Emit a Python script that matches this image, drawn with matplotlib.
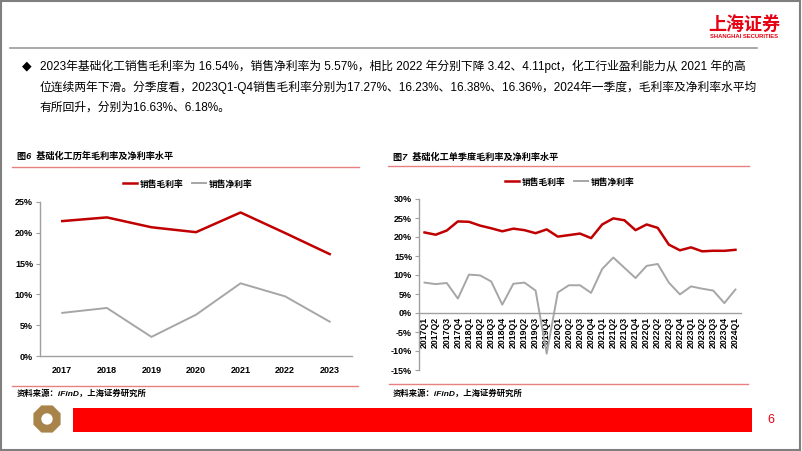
import matplotlib
matplotlib.use("Agg")
import matplotlib.pyplot as plt
from matplotlib.patches import Rectangle, RegularPolygon, Circle
from matplotlib.lines import Line2D

plt.rcParams['font.family'] = ['Liberation Sans', 'Noto Sans CJK SC', 'DejaVu Sans']

# ---- data ----
years = ["2017", "2018", "2019", "2020", "2021", "2022", "2023"]
gross_year = [21.9, 22.5, 20.9, 20.1, 23.3, 19.96, 16.54]
net_year = [7.0, 7.8, 3.1, 6.7, 11.8, 9.68, 5.57]

quarters = ["2017Q1", "2017Q2", "2017Q3", "2017Q4",
            "2018Q1", "2018Q2", "2018Q3", "2018Q4",
            "2019Q1", "2019Q2", "2019Q3", "2019Q4",
            "2020Q1", "2020Q2", "2020Q3", "2020Q4",
            "2021Q1", "2021Q2", "2021Q3", "2021Q4",
            "2022Q1", "2022Q2", "2022Q3", "2022Q4",
            "2023Q1", "2023Q2", "2023Q3", "2023Q4", "2024Q1"]
gross_q = [21.2, 20.6, 21.7, 24.1, 24.0, 23.0, 22.3, 21.5,
           22.2, 21.8, 21.0, 22.0, 20.1, 20.5, 20.9, 19.7,
           23.3, 24.9, 24.4, 21.8, 23.3, 22.4, 18.0, 16.5,
           17.27, 16.23, 16.38, 16.36, 16.63]
net_q = [8.0, 7.6, 7.9, 3.8, 10.1, 9.9, 8.3, 2.2,
         7.7, 8.0, 5.9, -10.7, 5.4, 7.3, 7.3, 5.3,
         11.6, 14.6, 11.9, 9.2, 12.4, 12.9, 8.0, 4.9,
         7.0, 6.4, 5.9, 2.6, 6.18]

series_names = ["销售毛利率", "销售净利率"]
RED = "#C00000"
GREY = "#A6A6A6"
AXIS = "#A0A0A0"

W, H = 802, 451
fig = plt.figure(figsize=(W / 100, H / 100), dpi=100)


def px(x, y):
    return x / W, 1 - y / H


def text(x, y, s, **kw):
    fig.text(x / W, 1 - y / H, s, **kw)


def hline(x0, x1, y, color, lw):
    fig.add_artist(Line2D([x0 / W, x1 / W], [1 - y / H, 1 - y / H],
                          color=color, lw=lw, transform=fig.transFigure))


def axes_px(x0, y0, x1, y1):
    return fig.add_axes([x0 / W, 1 - y1 / H, (x1 - x0) / W, (y1 - y0) / H])


# ---- page furniture ----
fig.add_artist(Rectangle((0.001, 0.002), 0.997, 0.996, fill=False,
                         edgecolor="#7F7F7F", lw=1.5, transform=fig.transFigure))
text(744, 24, "上海证券", color="#E60012", fontsize=13, fontweight="bold",
     ha="center", va="center", family=["Noto Sans CJK SC"])
text(744, 36, "SHANGHAI SECURITIES", color="#E60012", fontsize=4.2,
     fontweight="bold", ha="center", va="center")
hline(10, 757, 48, "#9A9A9A", 1.2)

text(27, 66, "◆", fontsize=9, ha="center", va="center", family=["DejaVu Sans"])
body = ["2023年基础化工销售毛利率为 16.54%，销售净利率为 5.57%，相比 2022 年分别下降 3.42、4.11pct，化工行业盈利能力从 2021 年的高",
        "位连续两年下滑。分季度看，2023Q1-Q4销售毛利率分别为17.27%、16.23%、16.38%、16.36%，2024年一季度，毛利率及净利率水平均",
        "有所回升，分别为16.63%、6.18%。"]
for i, line in enumerate(body):
    text(40, 66 + i * 21, line, fontsize=8.5, ha="left", va="center")

# chart titles and rules
text(17, 156, "图6  基础化工历年毛利率及净利率水平", fontsize=6.6, fontweight="bold",
     ha="left", va="center", style="italic")
text(393, 157, "图7  基础化工单季度毛利率及净利率水平", fontsize=6.6, fontweight="bold",
     ha="left", va="center", style="italic")
hline(12, 359, 167, "#E88080", 1.0)
hline(388, 749, 166, "#E88080", 1.0)
hline(12, 358, 386, "#E88080", 1.0)
hline(389, 748, 384, "#E88080", 1.0)
text(17, 394, "资料来源：iFinD，上海证券研究所", fontsize=6.0, fontweight="bold",
     style="italic", ha="left", va="center")
text(393, 394, "资料来源：iFinD，上海证券研究所", fontsize=6.0, fontweight="bold",
     style="italic", ha="left", va="center")

# bottom bar, logo and page number
fig.add_artist(Rectangle(px(73, 432), (752 - 73) / W, (432 - 408) / H,
                         facecolor="#FF0000", edgecolor="none", transform=fig.transFigure))
ax_logo = axes_px(31, 404, 63, 434)
ax_logo.set_xlim(-1, 1)
ax_logo.set_ylim(-1, 1)
ax_logo.set_aspect("equal")
ax_logo.axis("off")
ax_logo.add_patch(RegularPolygon((0, 0), 8, radius=0.98, orientation=0.3927,
                                 facecolor="#A8844A", edgecolor="none"))
ax_logo.add_patch(Circle((0, 0), 0.38, facecolor="white", edgecolor="none"))
text(771, 420, "6", color="#E60012", fontsize=9, ha="center", va="center")

# ---- left chart ----
ax1 = axes_px(40, 202, 352, 356)
x1 = range(len(years))
ax1.plot(x1, gross_year, color=RED, lw=1.8)
ax1.plot(x1, net_year, color=GREY, lw=1.4)
ax1.set_xlim(-0.5, len(years) - 0.5)
ax1.set_ylim(0, 25)
ax1.set_yticks([0, 5, 10, 15, 20, 25])
ax1.set_yticklabels([f"{v}%" for v in [0, 5, 10, 15, 20, 25]])
ax1.set_xticks(list(x1))
ax1.set_xticklabels(years)
for s in ["top", "right"]:
    ax1.spines[s].set_visible(False)
for s in ["left", "bottom"]:
    ax1.spines[s].set_color(AXIS)
    ax1.spines[s].set_linewidth(1.0)
ax1.tick_params(axis="y", length=3, color=AXIS, pad=2, labelsize=6.5)
ax1.tick_params(axis="x", length=0, pad=7, labelsize=6.5)
for lab in ax1.get_xticklabels() + ax1.get_yticklabels():
    lab.set_fontweight("bold")
ax1.patch.set_alpha(0)

h1 = [Line2D([], [], color=RED, lw=1.8), Line2D([], [], color=GREY, lw=1.4)]
fig.legend(h1, series_names, loc="center", bbox_to_anchor=px(188, 184),
           ncol=2, frameon=False, handlelength=1.6, handletextpad=0.3,
           columnspacing=1.0, prop={"size": 6.3, "weight": "bold",
                                    "family": ["Noto Sans CJK SC"]})

# ---- right chart ----
ax2 = axes_px(419, 199, 741, 370)
x2 = range(len(quarters))
ax2.plot(x2, gross_q, color=RED, lw=1.8)
ax2.plot(x2, net_q, color=GREY, lw=1.4)
ax2.set_xlim(-0.5, len(quarters) - 0.5)
ax2.set_ylim(-15, 30)
yt = [-15, -10, -5, 0, 5, 10, 15, 20, 25, 30]
ax2.set_yticks(yt)
ax2.set_yticklabels([f"{v}%" for v in yt])
ax2.set_xticks(list(x2))
ax2.set_xticklabels(quarters)
ax2.spines["bottom"].set_position(("data", 0))
for s in ["top", "right"]:
    ax2.spines[s].set_visible(False)
for s in ["left", "bottom"]:
    ax2.spines[s].set_color(AXIS)
    ax2.spines[s].set_linewidth(1.0)
ax2.tick_params(axis="y", length=3, color=AXIS, pad=2, labelsize=6.5)
ax2.tick_params(axis="x", length=0, pad=3, labelsize=6.3, labelrotation=90)
for lab in ax2.get_xticklabels():
    lab.set_verticalalignment("top")
    lab.set_fontweight("bold")
for lab in ax2.get_yticklabels():
    lab.set_fontweight("bold")
ax2.patch.set_alpha(0)

h2 = [Line2D([], [], color=RED, lw=1.8), Line2D([], [], color=GREY, lw=1.4)]
fig.legend(h2, series_names, loc="center", bbox_to_anchor=px(570, 182),
           ncol=2, frameon=False, handlelength=1.6, handletextpad=0.3,
           columnspacing=1.0, prop={"size": 6.3, "weight": "bold",
                                    "family": ["Noto Sans CJK SC"]})

fig.savefig("out.png", dpi=100)
